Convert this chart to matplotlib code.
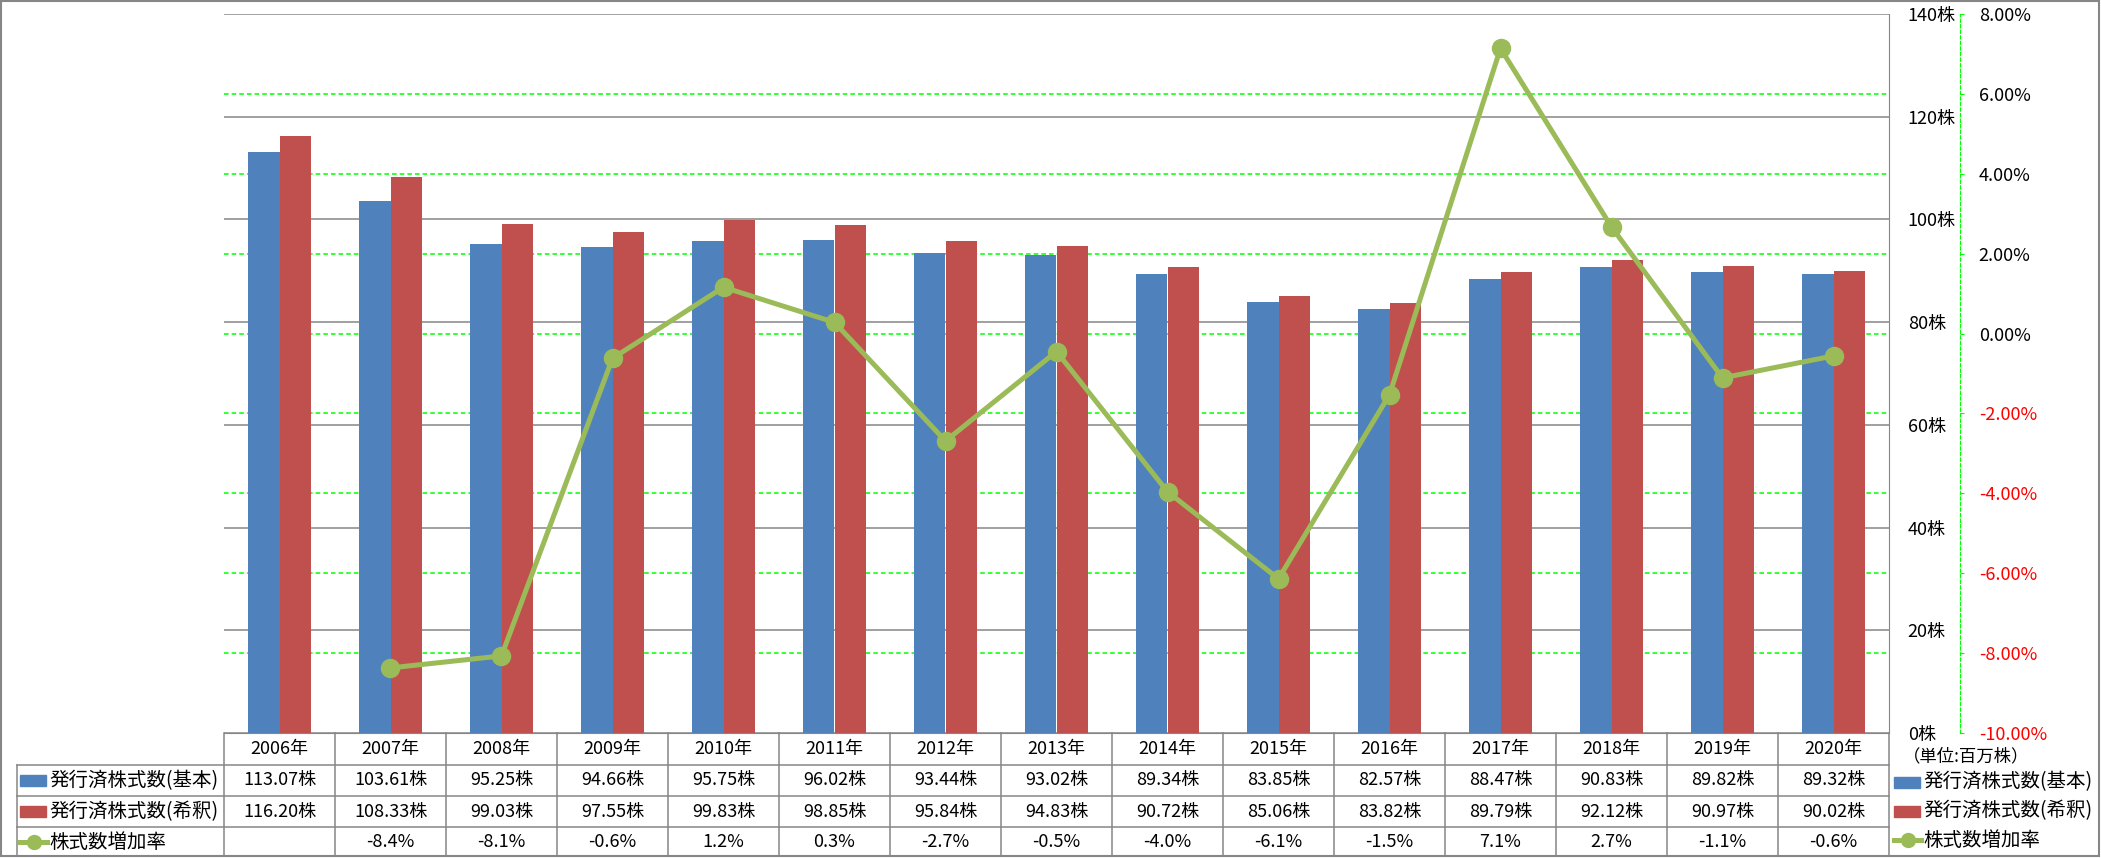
import matplotlib.pyplot as plt
import matplotlib.transforms as mtransforms
from matplotlib.patches import Rectangle
from matplotlib.lines import Line2D
import numpy as np

plt.rcParams['font.family'] = ['Noto Sans CJK JP', 'DejaVu Sans']

# Data
years = ['2006年', '2007年', '2008年', '2009年', '2010年', '2011年', '2012年', '2013年',
         '2014年', '2015年', '2016年', '2017年', '2018年', '2019年', '2020年']
shares_basic = [113.07, 103.61, 95.25, 94.66, 95.75, 96.02, 93.44, 93.02,
                89.34, 83.85, 82.57, 88.47, 90.83, 89.82, 89.32]
shares_diluted = [116.20, 108.33, 99.03, 97.55, 99.83, 98.85, 95.84, 94.83,
                  90.72, 85.06, 83.82, 89.79, 92.12, 90.97, 90.02]
# growth rate (%) from 2007 onwards
growth = [-8.37, -8.07, -0.62, 1.16, 0.28, -2.69, -0.45, -3.96,
          -6.14, -1.53, 7.14, 2.67, -1.11, -0.56]
series_names = ['発行済株式数(基本)', '発行済株式数(希釈)', '株式数増加率']
unit_label = '（単位:百万株）'
share_ticks = [0, 20, 40, 60, 80, 100, 120, 140]
pct_ticks = [-10, -8, -6, -4, -2, 0, 2, 4, 6, 8]

BLUE = '#4F81BD'
RED = '#C0504D'
GREEN = '#9BBB59'
GRID = '#868686'
LIME = '#00FF00'
FS = 13

W, H = 2101, 858
fig = plt.figure(figsize=(W / 100, H / 100), dpi=100)


def fx(x):
    return x / W


def fy(y):
    return 1 - y / H


ax = fig.add_axes([fx(224), fy(733), (1889 - 224) / W, (733 - 14) / H])
x = np.arange(len(years))
bw = 0.284
ax.bar(x - bw / 2, shares_basic, bw, color=BLUE, zorder=2)
ax.bar(x + bw / 2, shares_diluted, bw, color=RED, zorder=2)
ax.set_xlim(-0.5, len(years) - 0.5)
ax.set_ylim(0, 140)
ax.set_xticks([])
ax.yaxis.grid(True, color=GRID, lw=1.1)
ax.set_axisbelow(True)

# secondary axis
ax2 = ax.twinx()
ax2.set_ylim(-10, 8)
ax2.set_yticks(pct_ticks)
ax2.set_yticklabels([f'{v:.2f}%' for v in pct_ticks])
for s in ['left', 'top', 'bottom']:
    ax2.spines[s].set_visible(False)
ax2.spines['right'].set_position(('outward', 71 * 0.72))
ax2.spines['right'].set_color(LIME)
ax2.spines['right'].set_linestyle((0, (3, 2)))
ax2.tick_params(axis='y', length=3, color=LIME, pad=10.5, labelsize=FS)

# primary ticks on the right (twinx resets them to the left)
ax.yaxis.tick_right()
ax.set_yticks(share_ticks)
ax.set_yticklabels([f'{v}株' for v in share_ticks])
ax.tick_params(axis='y', length=0, pad=13.5, labelsize=FS, labelright=True, labelleft=False)
for s in ['left', 'top']:
    ax.spines[s].set_visible(False)
ax.spines['right'].set_color(GRID)
ax.spines['bottom'].set_color(GRID)

# secondary gridlines drawn behind bars
trans = mtransforms.blended_transform_factory(ax.transAxes, ax2.transData)
for t in pct_ticks[1:-1]:
    ax.plot([0, 1], [t, t], transform=trans, color=LIME, lw=1.1,
            ls=(0, (3, 2)), zorder=1)

ax2.plot(np.arange(1, len(years)), growth, color=GREEN, lw=3.6,
         marker='o', ms=13, zorder=3)

# data table under the chart
tb = mtransforms.blended_transform_factory(ax.transData, fig.transFigure)
row_lines = [733, 765, 796, 827, 856]
for i in range(len(years) + 1):
    fig.add_artist(Line2D([i - 0.5, i - 0.5], [fy(733), fy(856)], transform=tb,
                          color=GRID, lw=1.1))
for yl in row_lines[1:]:
    fig.add_artist(Line2D([fx(17), fx(1889)], [fy(yl), fy(yl)], color=GRID, lw=1.1))
fig.add_artist(Line2D([fx(17), fx(17)], [fy(765), fy(856)], color=GRID, lw=1.1))

row_mid = [749, 780.5, 811.5, 842]
for i, yr in enumerate(years):
    fig.text(i, fy(row_mid[0]), yr, transform=tb, ha='center', va='center', fontsize=FS)
    fig.text(i, fy(row_mid[1]), f'{shares_basic[i]:.2f}株', transform=tb,
             ha='center', va='center', fontsize=FS)
    fig.text(i, fy(row_mid[2]), f'{shares_diluted[i]:.2f}株', transform=tb,
             ha='center', va='center', fontsize=FS)
for i, g in enumerate(growth):
    fig.text(i + 1, fy(row_mid[3]), f'{g:.1f}%', transform=tb,
             ha='center', va='center', fontsize=FS)


def legend_key(x0, yc, kind):
    if kind in (0, 1):
        fig.add_artist(Rectangle((fx(x0), fy(yc + 5.5)), 26 / W, 11 / H,
                                 color=[BLUE, RED][kind], transform=fig.transFigure))
    else:
        fig.add_artist(Line2D([fx(x0), fx(x0 + 27)], [fy(yc), fy(yc)], color=GREEN, lw=3.6))
        fig.add_artist(Line2D([fx(x0 + 13.5)], [fy(yc)], color=GREEN, marker='o', ms=10))


for k in range(3):
    legend_key(20, row_mid[k + 1], k)
    fig.text(fx(49), fy(row_mid[k + 1]), series_names[k], ha='left', va='center', fontsize=14)

# right side legend
fig.text(fx(1903), fy(756), unit_label, ha='left', va='center', fontsize=12.5)
for k, yc in enumerate([782, 811, 840]):
    legend_key(1894, yc, k)
    fig.text(fx(1923), fy(yc), series_names[k], ha='left', va='center', fontsize=14)

# outer border
fig.add_artist(Rectangle((fx(1), fy(856)), (W - 3) / W, 855 / H, fill=False,
                         edgecolor=GRID, lw=1.5, transform=fig.transFigure))

# negative percentages in red
for lab, v in zip(ax2.get_yticklabels(), pct_ticks):
    lab.set_color('#FF0000' if v < 0 else 'black')

fig.savefig('out.png', dpi=100)
